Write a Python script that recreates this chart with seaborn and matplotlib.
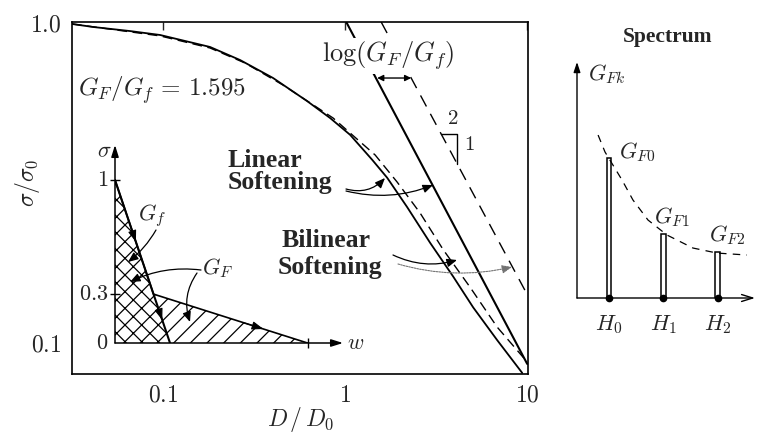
import numpy as np
import pandas as pd
import matplotlib
matplotlib.use("Agg")
import matplotlib.pyplot as plt
from matplotlib.transforms import Affine2D
from matplotlib.ticker import NullLocator
import seaborn as sns

# ---- size-effect curves: nominal strength vs. relative size ----
linear_D = [0.0316, 0.0412, 0.0659, 0.0963, 0.181, 0.265, 0.402, 0.618, 0.827,
            1.065, 1.408, 1.702, 2.19, 2.93, 3.92, 5.05, 6.84, 9.39]
linear_sigma = [0.986, 0.965, 0.937, 0.911, 0.836, 0.761, 0.669, 0.567, 0.502,
                0.445, 0.372, 0.327, 0.265, 0.205, 0.161, 0.129, 0.102, 0.0806]

bilinear_D = [0.0316, 0.0963, 0.181, 0.282, 0.456, 0.859, 1.462, 1.931, 2.58,
              3.46, 4.86, 6.84, 10.0]
bilinear_sigma = [0.986, 0.905, 0.830, 0.745, 0.636, 0.502, 0.385, 0.317, 0.254,
                  0.195, 0.149, 0.112, 0.0872]

# LEFM asymptotes (solid: G_f, dashed: G_F)
lefm_f_D = [1.014, 10.0]
lefm_f_sigma = [1.0, 0.086]
lefm_F_D = [1.577, 10.1]
lefm_F_sigma = [1.0, 0.140]

# slope triangle on the G_F asymptote
slope_D = [3.37, 4.13, 4.13]
slope_sigma = [0.447, 0.447, 0.360]

# horizontal shift between asymptotes
shift_D = [1.499, 2.305]
shift_sigma = 0.669
ratio_GF_Gf = 1.595

x_ticks = [0.1, 1, 10]
x_labels = ["0.1", "1", "10"]
y_ticks = [0.1, 1.0]
y_labels = ["0.1", "1.0"]

# ---- softening laws (inset) ----
w_linear = [0.0, 1.0]
s_linear = [1.0, 0.0]
w_bilinear = [0.0, 0.7, 3.5]
s_bilinear = [1.0, 0.3, 0.0]
s_ticks = [1.0, 0.3]
s_tick_labels = ["1", "0.3"]

# ---- fracture energy spectrum ----
modes = ["H_0", "H_1", "H_2"]
GF_k = [1.0, 0.46, 0.33]
GF_names = ["G_{F0}", "G_{F1}", "G_{F2}"]
env_x = [-0.20, -0.073, 0.239, 0.44, 0.716, 1.064, 1.541, 1.982, 2.532]
env_y = [1.164, 1.043, 0.843, 0.70, 0.557, 0.45, 0.357, 0.321, 0.307]

sns.set_style("white")
plt.rcParams.update({
    "font.family": ["DejaVu Serif"],
    "mathtext.fontset": "cm",
    "hatch.color": "black",
    "hatch.linewidth": 0.9,
})

W, H = 758, 434
fig = plt.figure(figsize=(W / 100, H / 100), dpi=100)
fig.patch.set_facecolor("white")
# pixel coordinates measured from the top-left corner
px = Affine2D().scale(1 / W, -1 / H).translate(0, 1) + fig.transFigure

BOLD = dict(family="Liberation Serif", weight="bold")

# ================= main log-log panel =================
ax = fig.add_axes([72 / W, 1 - 374 / H, 456 / W, 352 / H])
ax.set_xscale("log")
ax.set_yscale("log")

sns.lineplot(x=linear_D, y=linear_sigma, ax=ax, color="black", linewidth=1.3,
             sort=False, estimator=None)
sns.lineplot(x=bilinear_D, y=bilinear_sigma, ax=ax, color="black", linewidth=1.0,
             linestyle=(0, (7, 4)), sort=False, estimator=None)
sns.lineplot(x=lefm_f_D, y=lefm_f_sigma, ax=ax, color="black", linewidth=1.5,
             sort=False, estimator=None)
sns.lineplot(x=lefm_F_D, y=lefm_F_sigma, ax=ax, color="black", linewidth=1.0,
             linestyle=(0, (9, 6)), sort=False, estimator=None)
sns.lineplot(x=slope_D, y=slope_sigma, ax=ax, color="black", linewidth=1.0,
             sort=False, estimator=None)

ax.set_xlim(0.0316, 10.1)
ax.set_ylim(0.080, 1.0)
ax.set_xticks(x_ticks, labels=[f"${t}$" for t in x_labels])
ax.set_yticks(y_ticks, labels=[f"${t}$" for t in y_labels])
ax.xaxis.set_minor_locator(NullLocator())
ax.yaxis.set_minor_locator(NullLocator())
ax.tick_params(axis="x", direction="in", length=6, width=1, top=True,
               labelsize=17, pad=7)
ax.tick_params(axis="y", direction="in", length=6, width=1, right=False,
               labelsize=17, pad=8)
for sp in ax.spines.values():
    sp.set_linewidth(1.2)
    sp.set_color("black")
ax.set_xlabel("")
ax.set_ylabel("")

# shift arrow and its label
ax.annotate("", xy=(shift_D[1], shift_sigma), xytext=(shift_D[0], shift_sigma),
            arrowprops=dict(arrowstyle="<|-|>", color="black", lw=1.0,
                            mutation_scale=9, shrinkA=0, shrinkB=0))
fig.text(388, 56, r"$\log(G_F/G_f)$", transform=px, ha="center", va="center",
         fontsize=19, bbox=dict(facecolor="white", edgecolor="none", pad=1.0))
fig.text(453, 119, r"$2$", transform=px, ha="center", va="center", fontsize=15)
fig.text(469, 145, r"$1$", transform=px, ha="center", va="center", fontsize=15)

fig.text(78, 96, rf"$G_F/G_f\,=\,{ratio_GF_Gf}$", transform=px, ha="left",
         va="baseline", fontsize=18)

fig.text(228, 167, "Linear", transform=px, ha="left", va="baseline", fontsize=18.5, **BOLD)
fig.text(228, 189, "Softening", transform=px, ha="left", va="baseline", fontsize=18.5, **BOLD)
fig.text(282, 247, "Bilinear", transform=px, ha="left", va="baseline", fontsize=18.5, **BOLD)
fig.text(278, 274, "Softening", transform=px, ha="left", va="baseline", fontsize=18.5, **BOLD)

arrow_kw = dict(arrowstyle="-|>,head_length=0.6,head_width=0.25", color="black",
                lw=0.9, shrinkA=0, shrinkB=0)
ax.annotate("", xy=(385, 178), xycoords=px, xytext=(346, 189), textcoords=px,
            arrowprops=dict(connectionstyle="arc3,rad=0.3", **arrow_kw))
ax.annotate("", xy=(433, 185), xycoords=px, xytext=(346, 191), textcoords=px,
            arrowprops=dict(connectionstyle="arc3,rad=0.16", **arrow_kw))
ax.annotate("", xy=(457, 260), xycoords=px, xytext=(393, 255), textcoords=px,
            arrowprops=dict(connectionstyle="arc3,rad=0.19", **arrow_kw))
grey_kw = dict(arrow_kw, color="0.45", lw=0.8, linestyle=(0, (1.5, 1)))
ax.annotate("", xy=(512, 267), xycoords=px, xytext=(398, 264), textcoords=px,
            arrowprops=dict(connectionstyle="arc3,rad=0.13", **grey_kw))

fig.text(27, 183, r"$\sigma/\sigma_0$", transform=px, rotation=90, ha="center",
         va="center", fontsize=17)
fig.text(301, 420, r"$D\,/\,D_0$", transform=px, ha="center", va="center",
         fontsize=17)

# ================= inset: softening laws =================
axi = fig.add_axes([115 / W, 1 - 343 / H, 228 / W, 198 / H])
axi.patch.set_alpha(0)
axi.set_xlim(0, 228 / 55)
axi.set_ylim(0, 198 / 163)
axi.axis("off")

axi.fill_between(w_linear, s_linear, 0, facecolor="none", edgecolor="black",
                 hatch="xx", linewidth=0)
w_tail = np.linspace(w_bilinear[1], w_bilinear[-1], 60)
upper = np.interp(w_tail, w_bilinear, s_bilinear)
lower = np.interp(w_tail, w_linear, s_linear, right=0.0)
axi.fill_between(w_tail, lower, upper, facecolor="none", edgecolor="black",
                 hatch="//", linewidth=0)
sns.lineplot(x=w_linear, y=s_linear, ax=axi, color="black", linewidth=1.5,
             sort=False, estimator=None)
sns.lineplot(x=w_bilinear, y=s_bilinear, ax=axi, color="black", linewidth=1.2,
             sort=False, estimator=None)

axis_kw = dict(arrowstyle="-|>,head_length=0.7,head_width=0.22", color="black",
               lw=1.1, shrinkA=0, shrinkB=0)
axi.annotate("", xy=(0, 198 / 163), xytext=(0, 0), arrowprops=axis_kw,
             annotation_clip=False)
axi.annotate("", xy=(228 / 55, 0), xytext=(0, 0), arrowprops=axis_kw,
             annotation_clip=False)
axi.plot([0] * len(s_ticks), s_ticks, marker="_", ms=7, mew=1.0, color="black",
         linestyle="none", clip_on=False)
axi.plot([w_bilinear[-1]], [0], marker="|", ms=7, mew=1.0, color="black",
         linestyle="none", clip_on=False)
for s, lab in zip(s_ticks, s_tick_labels):
    axi.text(-0.12, s, f"${lab}$", ha="right", va="center", fontsize=16)
axi.text(-0.12, 0, "$0$", ha="right", va="center", fontsize=16)
fig.text(104, 151, r"$\sigma$", transform=px, ha="center", va="center", fontsize=16)
fig.text(356, 343, r"$w$", transform=px, ha="center", va="center", fontsize=16)

# direction arrows along the softening lines
head_kw = dict(arrowstyle="-|>,head_length=0.7,head_width=0.25", color="black",
               lw=0.8, shrinkA=0, shrinkB=0)
for s_tip in (0.62, 0.14):
    w_tip = np.interp(s_tip, s_linear[::-1], w_linear[::-1])
    axi.annotate("", xy=(w_tip, s_tip), xytext=(w_tip - 0.08, s_tip + 0.08),
                 arrowprops=head_kw)
w_t = 2.7
s_t = np.interp(w_t, w_bilinear, s_bilinear)
axi.annotate("", xy=(w_t, s_t), xytext=(w_t - 0.35, s_t + 0.0375),
             arrowprops=head_kw)

fig.text(152, 216, r"$G_f$", transform=px, ha="center", va="center", fontsize=16)
fig.text(218, 268, r"$G_F$", transform=px, ha="center", va="center", fontsize=16)
axi.annotate("", xy=(128, 262), xycoords=px, xytext=(156, 230), textcoords=px,
             arrowprops=dict(connectionstyle="arc3,rad=-0.1", **arrow_kw))
axi.annotate("", xy=(130, 282), xycoords=px, xytext=(201, 270), textcoords=px,
             arrowprops=dict(connectionstyle="arc3,rad=0.15", **arrow_kw))
axi.annotate("", xy=(190, 322), xycoords=px, xytext=(197, 273), textcoords=px,
             arrowprops=dict(connectionstyle="arc3,rad=0.25", **arrow_kw))

# ================= spectrum panel =================
axs = fig.add_axes([577 / W, 1 - 298 / H, 178 / W, 236 / H])
axs.patch.set_alpha(0)
spec = pd.DataFrame({"mode": modes, "GF": GF_k})
sns.barplot(data=spec, x="mode", y="GF", ax=axs, width=0.09, color="white",
            edgecolor="black", linewidth=1.1, saturation=1)
axs.plot(range(len(modes)), [0] * len(modes), "o", ms=4.5, color="black",
         clip_on=False, zorder=5)
axs.plot(env_x, env_y, color="black", lw=0.9, linestyle=(0, (6, 5)), clip_on=False)
axs.set_xlim(-0.587, 2.68)
axs.set_ylim(0, 236 / 140)
for sp in axs.spines.values():
    sp.set_visible(False)
axs.set_xticks(range(len(modes)), labels=[f"${m}$" for m in modes])
axs.set_yticks([])
axs.tick_params(axis="x", length=0, pad=11, labelsize=16)
axs.set_xlabel("")
axs.set_ylabel("")
axs.annotate("", xy=(0, 1), xycoords="axes fraction", xytext=(0, 0),
             textcoords="axes fraction",
             arrowprops=dict(arrowstyle="-|>,head_length=0.6,head_width=0.2",
                             color="black", lw=1.0, shrinkA=0, shrinkB=0))
axs.annotate("", xy=(1, 0), xycoords="axes fraction", xytext=(0, 0),
             textcoords="axes fraction",
             arrowprops=dict(arrowstyle="->,head_length=0.8,head_width=0.25",
                             color="black", lw=1.0, shrinkA=0, shrinkB=0))
fig.text(588, 74, r"$G_{Fk}$", transform=px, ha="left", va="center", fontsize=16)
for (x0, y0), name in zip([(637, 152), (672, 217), (727, 235)], GF_names):
    fig.text(x0, y0, f"${name}$", transform=px, ha="center", va="center", fontsize=16)
fig.text(668, 37, "Spectrum", transform=px, ha="center", va="center",
         fontsize=15.5, **BOLD)

fig.savefig("out.png", dpi=100)
